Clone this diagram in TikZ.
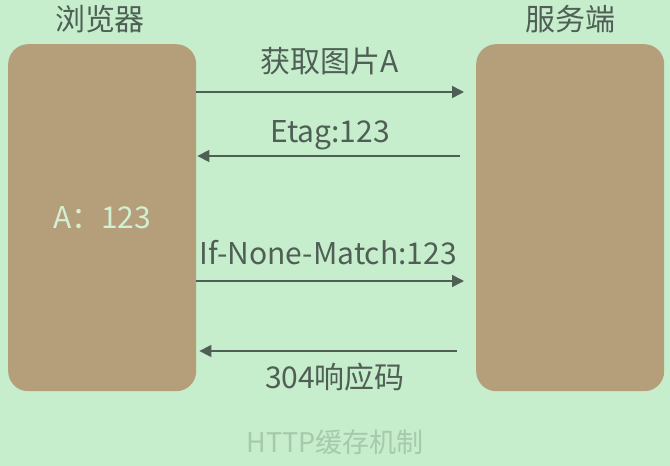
\documentclass[tikz,border=0pt]{standalone}
\usepackage{fontspec}
\setmainfont{Noto Sans CJK SC}
\usetikzlibrary{arrows.meta}
\definecolor{cachebg}{RGB}{198,237,204}
\definecolor{cachebox}{RGB}{181,158,122}
\definecolor{cacheink}{RGB}{80,95,86}
\definecolor{cachelight}{RGB}{210,240,212}
\definecolor{cachefaint}{RGB}{166,200,172}

\begin{document}
\begin{tikzpicture}[x=1pt,y=-1pt,
    box/.style={fill=cachebox, rounded corners=20pt, minimum width=188pt, minimum height=347pt, anchor=north west, inner sep=0pt},
    title/.style={text=cacheink, font=\fontsize{30}{34}\selectfont},
    msg/.style={draw=cacheink, line width=1.5pt, -{Triangle[length=12pt,width=12pt]}}]
% Background
\fill[cachebg] (0,0) rectangle (670,466);

% Browser and server
\node[box, text=cachelight, font=\fontsize{30}{34}\selectfont] (browser) at (8,44) {A：123};
\node[box] (server) at (476,44) {};
\node[title] (browsername) at (100,19) {浏览器};
\node[title] (servername) at (570,19) {服务端};

% Messages
\node[title] (getlabel) at (330,61) {获取图片A};
\draw[msg, shorten >=12pt] (browser.east |- 0,92) -- (server.west |- 0,92);

\node[title] (etaglabel) at (330,135) {Etag:123};
\draw[msg, shorten <=16pt, shorten >=1pt] (server.west |- 0,156) -- (browser.east |- 0,156);

\node[title] (matchlabel) at (328,253) {If-None-Match:123};
\draw[msg, shorten >=12pt] (browser.east |- 0,281) -- (server.west |- 0,281);

\node[title] (codelabel) at (335,377) {304响应码};
\draw[msg, shorten <=19pt, shorten >=3pt] (server.west |- 0,351) -- (browser.east |- 0,351);

% Caption
\node[text=cachefaint, font=\fontsize{27}{30}\selectfont] (caption) at (335,442) {HTTP缓存机制};
\end{tikzpicture}
\end{document}
